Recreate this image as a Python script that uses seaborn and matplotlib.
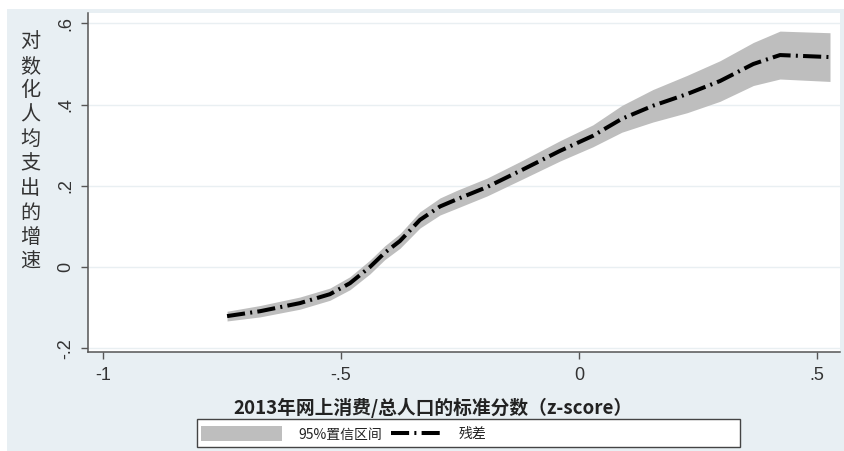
import numpy as np
import pandas as pd
import matplotlib
matplotlib.use("Agg")
import matplotlib.pyplot as plt
from matplotlib.patches import Rectangle, Patch
from matplotlib.lines import Line2D
import seaborn as sns

# Standardised online consumption per capita (z-score) and the fitted residual
x_score = [-0.739, -0.670, -0.586, -0.523, -0.481, -0.439, -0.408, -0.376, -0.334,
           -0.292, -0.256, -0.193, -0.118, -0.040, 0.029, 0.090, 0.155, 0.227,
           0.296, 0.366, 0.422, 0.527]
resid = [-0.121, -0.109, -0.089, -0.067, -0.040, 0.000, 0.035, 0.064, 0.116,
         0.149, 0.167, 0.197, 0.240, 0.286, 0.323, 0.365, 0.397, 0.426,
         0.458, 0.500, 0.522, 0.517]
# half-width of the 95% confidence band
ci_half = [0.012, 0.014, 0.015, 0.015, 0.016, 0.017, 0.017, 0.018, 0.020,
           0.021, 0.022, 0.022, 0.023, 0.025, 0.027, 0.033, 0.040, 0.046,
           0.050, 0.053, 0.059, 0.060]

x_ticks = [-1, -0.5, 0, 0.5]
x_tick_labels = ["-1", "-.5", "0", ".5"]
y_ticks = [-0.2, 0, 0.2, 0.4, 0.6]
y_tick_labels = ["-.2", "0", ".2", ".4", ".6"]

y_title = "对数化人均支出的增速"
x_title = "2013年网上消费/总人口的标准分数（z-score）"
band_label = "95%置信区间"
line_label = "残差"

df = pd.DataFrame({"x": x_score, "y": resid, "h": ci_half})
df["lo"] = df["y"] - df["h"]
df["hi"] = df["y"] + df["h"]

sns.set_theme(style="white")
plt.rcParams["font.family"] = ["Liberation Sans", "Noto Sans CJK SC", "DejaVu Sans"]
cjk = ["Noto Sans CJK SC", "DejaVu Sans"]

W, H = 845, 451
fig = plt.figure(figsize=(W / 100, H / 100), dpi=100)
fig.patch.set_facecolor("white")
fig.patches.append(Rectangle((7 / W, 0), 1 - 7 / W, 1 - 9 / H, transform=fig.transFigure,
                             facecolor="#e8eff3", edgecolor="none", zorder=-10))

ax = fig.add_axes([88 / W, 1 - 352 / H, (840 - 88) / W, (352 - 13) / H])
ax.set_facecolor("white")

band_color = "#bebebe"
dash = (4.5, 1.3, 0.5, 1.3)
ax.fill_between(df["x"], df["lo"], df["hi"], color=band_color, linewidth=0, zorder=2)
sns.lineplot(data=df, x="x", y="y", ax=ax, color="black", linewidth=2.9,
             dashes=False, zorder=3)
ln = ax.lines[-1]
ln.set_dashes(dash)
ln.set_dash_capstyle("butt")
ln.set_solid_joinstyle("round")

ax.set_xlim(-1.031, 0.548)
ax.set_ylim(-0.2094, 0.6256)
ax.set_xticks(x_ticks)
ax.set_xticklabels(x_tick_labels)
ax.set_yticks(y_ticks)
ax.set_yticklabels(y_tick_labels, rotation=90, va="center")
for yv in y_ticks:
    ax.axhline(yv, color="#e9eff2", linewidth=1.0, zorder=1)

for side in ["top", "right"]:
    ax.spines[side].set_visible(False)
for side in ["left", "bottom"]:
    ax.spines[side].set_color("#555555")
    ax.spines[side].set_linewidth(1.1)
ax.tick_params(axis="both", direction="out", length=5, width=1.0, color="#555555",
               labelsize=13, labelcolor="#333333", pad=4)
ax.tick_params(axis="x", pad=6, bottom=True)
ax.tick_params(axis="y", pad=5, left=True)
ax.set_xlabel("")
ax.set_ylabel("")

fig.text(30 / W, 1 - 152 / H, "\n".join(y_title), ha="center", va="center",
         fontsize=14.5, linespacing=1.22, color="#333333", family=cjk)
fig.text(433 / W, 1 - 408 / H, x_title, ha="center", va="center",
         fontsize=13.5, fontweight="bold", color="#222222", family=cjk)

# legend box with its two keys
fig.patches.append(Rectangle((197 / W, 1 - 447 / H), (740 - 197) / W, 28 / H,
                             transform=fig.transFigure, facecolor="white",
                             edgecolor="#444444", linewidth=1.0, zorder=1))
h_band = Patch(facecolor=band_color, edgecolor="none")
h_line = Line2D([], [], color="black", linewidth=2.9, dashes=dash, dash_capstyle="butt")
leg_kw = dict(loc="center left", frameon=False, borderpad=0.0, borderaxespad=0.0,
              prop={"family": cjk, "size": 10})
leg1 = fig.legend([h_band], [band_label], bbox_to_anchor=(201 / W, 1 - 434 / H),
                  handlelength=5.8, handleheight=1.25, handletextpad=1.2, **leg_kw)
leg2 = fig.legend([h_line], [line_label], bbox_to_anchor=(391 / W, 1 - 434 / H),
                  handlelength=3.7, handletextpad=1.2, **leg_kw)
for lg in (leg1, leg2):
    for t in lg.get_texts():
        t.set_color("#222222")

fig.savefig("out.png", dpi=100)
